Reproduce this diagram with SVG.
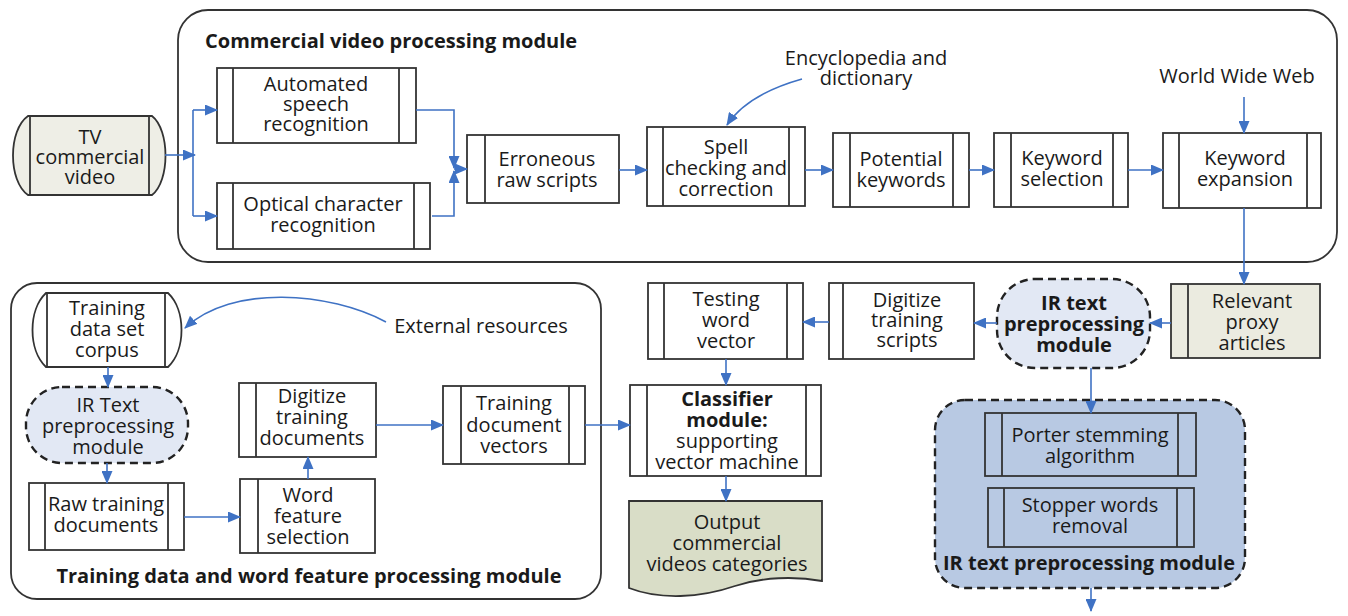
<svg xmlns="http://www.w3.org/2000/svg" width="1348" height="616" viewBox="0 0 1348 616">
<defs>
<style>
.box{fill:#fff;stroke:#333;stroke-width:1.8}
.ln{stroke:#333;stroke-width:1.8;fill:none}
.mod{fill:#fff;stroke:#333;stroke-width:1.8}
.dash{stroke:#222;stroke-width:2.4;stroke-dasharray:8 5}
.t{font-family:"Open Sans","Noto Sans",sans-serif;font-size:20px;fill:#1a1a1a;text-anchor:middle}
.b{font-weight:bold}
.c{fill:none;stroke:#3f72c4;stroke-width:1.6;marker-end:url(#ah)}
.p{fill:none;stroke:#3f72c4;stroke-width:1.6}
</style>
<marker id="ah" markerWidth="13" markerHeight="11" refX="12" refY="5.5" orient="auto" markerUnits="userSpaceOnUse">
<path d="M0,0 L13,5.5 L0,11 Z" fill="#3f72c4"/>
</marker>
</defs>
<rect width="1348" height="616" fill="#fff"/>

<g id="module-commercial">
<rect class="mod" x="178" y="10" width="1159" height="252" rx="30"/>
<text class="t b" x="205" y="48" style="text-anchor:start">Commercial video processing module</text>
</g>

<g id="module-training">
<rect class="mod" x="11" y="283" width="590" height="316" rx="26"/>
<text class="t b" x="309" y="583">Training data and word feature processing module</text>
</g>

<g id="module-ir-big">
<rect x="935" y="400" width="310" height="188" rx="30" fill="#b8c9e3" class="dash"/>
<text class="t b" x="1089" y="570">IR text preprocessing module</text>
</g>

<g id="tv">
<path d="M28,116 L152,116 C170,130 170,181 152,195 L28,195 C8,181 8,130 28,116 Z" fill="#eeeee6" stroke="#333" stroke-width="1.8"/>
<line class="ln" x1="30" y1="116" x2="30" y2="195"/>
<line class="ln" x1="149" y1="116" x2="149" y2="195"/>
<text class="t" x="90" y="144">TV</text>
<text class="t" x="90" y="164">commercial</text>
<text class="t" x="90" y="184">video</text>
</g>

<g id="asr">
<rect class="box" x="217" y="68" width="199" height="75"/>
<line class="ln" x1="233" y1="68" x2="233" y2="143"/>
<line class="ln" x1="399" y1="68" x2="399" y2="143"/>
<text class="t" x="316" y="91">Automated</text>
<text class="t" x="316" y="111">speech</text>
<text class="t" x="316" y="131">recognition</text>
</g>

<g id="ocr">
<rect class="box" x="217" y="183" width="213" height="66"/>
<line class="ln" x1="233" y1="183" x2="233" y2="249"/>
<line class="ln" x1="414" y1="183" x2="414" y2="249"/>
<text class="t" x="323" y="211">Optical character</text>
<text class="t" x="323" y="232">recognition</text>
</g>

<g id="erroneous">
<rect class="box" x="467" y="135" width="152" height="68"/>
<line class="ln" x1="485" y1="135" x2="485" y2="203"/>
<text class="t" x="547" y="166">Erroneous</text>
<text class="t" x="547" y="187">raw scripts</text>
</g>

<g id="spell">
<rect class="box" x="647" y="127" width="158" height="79"/>
<line class="ln" x1="663" y1="127" x2="663" y2="206"/>
<line class="ln" x1="789" y1="127" x2="789" y2="206"/>
<text class="t" x="726" y="154">Spell</text>
<text class="t" x="726" y="175">checking and</text>
<text class="t" x="726" y="196">correction</text>
</g>

<g id="encyclopedia">
<text class="t" x="866" y="65">Encyclopedia and</text>
<text class="t" x="866" y="85">dictionary</text>
</g>

<g id="potential">
<rect class="box" x="833" y="133" width="136" height="74"/>
<line class="ln" x1="850" y1="133" x2="850" y2="207"/>
<line class="ln" x1="953" y1="133" x2="953" y2="207"/>
<text class="t" x="901" y="166">Potential</text>
<text class="t" x="901" y="187">keywords</text>
</g>

<g id="selection">
<rect class="box" x="994" y="133" width="134" height="74"/>
<line class="ln" x1="1011" y1="133" x2="1011" y2="207"/>
<line class="ln" x1="1113" y1="133" x2="1113" y2="207"/>
<text class="t" x="1062" y="165">Keyword</text>
<text class="t" x="1062" y="186">selection</text>
</g>

<g id="www">
<text class="t" x="1237" y="83">World Wide Web</text>
</g>

<g id="expansion">
<rect class="box" x="1163" y="133" width="158" height="75"/>
<line class="ln" x1="1179" y1="133" x2="1179" y2="208"/>
<line class="ln" x1="1307" y1="133" x2="1307" y2="208"/>
<text class="t" x="1245" y="165">Keyword</text>
<text class="t" x="1245" y="186">expansion</text>
</g>

<g id="relevant">
<rect x="1171" y="284" width="149" height="74" fill="#ebebe0" stroke="#333" stroke-width="1.8"/>
<line class="ln" x1="1188" y1="284" x2="1188" y2="358"/>
<text class="t" x="1252" y="308">Relevant</text>
<text class="t" x="1252" y="329">proxy</text>
<text class="t" x="1252" y="350">articles</text>
</g>

<g id="ir-top">
<rect x="997" y="279" width="153" height="89" rx="38" fill="#e2e8f4" class="dash"/>
<text class="t b" x="1074" y="310">IR text</text>
<text class="t b" x="1074" y="331">preprocessing</text>
<text class="t b" x="1074" y="352">module</text>
</g>

<g id="digitize-scripts">
<rect class="box" x="829" y="283" width="145" height="76"/>
<line class="ln" x1="843" y1="283" x2="843" y2="359"/>
<text class="t" x="907" y="307">Digitize</text>
<text class="t" x="907" y="327">training</text>
<text class="t" x="907" y="347">scripts</text>
</g>

<g id="testing">
<rect class="box" x="648" y="283" width="155" height="76"/>
<line class="ln" x1="664" y1="283" x2="664" y2="359"/>
<line class="ln" x1="787" y1="283" x2="787" y2="359"/>
<text class="t" x="726" y="306">Testing</text>
<text class="t" x="726" y="327">word</text>
<text class="t" x="726" y="348">vector</text>
</g>

<g id="classifier">
<rect class="box" x="630" y="385" width="191" height="91"/>
<line class="ln" x1="647" y1="385" x2="647" y2="476"/>
<line class="ln" x1="806" y1="385" x2="806" y2="476"/>
<text class="t b" x="727" y="406">Classifier</text>
<text class="t b" x="727" y="427">module:</text>
<text class="t" x="727" y="448">supporting</text>
<text class="t" x="727" y="469">vector machine</text>
</g>

<g id="output">
<path d="M629,501 L822,501 L822,581 C795,576 762,577 735,586 C700,598 660,600 629,588 Z" fill="#d9ddc7" stroke="#333" stroke-width="1.8"/>
<text class="t" x="727" y="529">Output</text>
<text class="t" x="727" y="550">commercial</text>
<text class="t" x="727" y="571">videos categories</text>
</g>

<g id="porter">
<rect class="box" x="985" y="413" width="211" height="63" fill="#b8c9e3" style="fill:#b8c9e3"/>
<line class="ln" x1="1002" y1="413" x2="1002" y2="476"/>
<line class="ln" x1="1178" y1="413" x2="1178" y2="476"/>
<text class="t" x="1090" y="442">Porter stemming</text>
<text class="t" x="1090" y="463">algorithm</text>
</g>

<g id="stopper">
<rect class="box" x="988" y="488" width="206" height="59" style="fill:#b8c9e3"/>
<line class="ln" x1="1004" y1="488" x2="1004" y2="547"/>
<line class="ln" x1="1177" y1="488" x2="1177" y2="547"/>
<text class="t" x="1090" y="512">Stopper words</text>
<text class="t" x="1090" y="533">removal</text>
</g>

<g id="corpus">
<path d="M46,293 L168,293 C186,310 186,350 168,367 L46,367 C28,350 28,310 46,293 Z" fill="#fff" stroke="#333" stroke-width="1.8"/>
<line class="ln" x1="47" y1="293" x2="47" y2="367"/>
<line class="ln" x1="165" y1="293" x2="165" y2="367"/>
<text class="t" x="107" y="315">Training</text>
<text class="t" x="107" y="336">data set</text>
<text class="t" x="107" y="357">corpus</text>
</g>

<g id="external">
<text class="t" x="481" y="333">External resources</text>
</g>

<g id="ir-small">
<rect x="26" y="387" width="162" height="76" rx="36" fill="#e2e8f4" class="dash"/>
<text class="t" x="108" y="412">IR Text</text>
<text class="t" x="108" y="433">preprocessing</text>
<text class="t" x="108" y="454">module</text>
</g>

<g id="raw">
<rect class="box" x="29" y="483" width="155" height="67"/>
<line class="ln" x1="45" y1="483" x2="45" y2="550"/>
<line class="ln" x1="168" y1="483" x2="168" y2="550"/>
<text class="t" x="106" y="511">Raw training</text>
<text class="t" x="106" y="532">documents</text>
</g>

<g id="word">
<rect class="box" x="240" y="479" width="135" height="74"/>
<line class="ln" x1="258" y1="479" x2="258" y2="553"/>
<text class="t" x="308" y="502">Word</text>
<text class="t" x="308" y="523">feature</text>
<text class="t" x="308" y="544">selection</text>
</g>

<g id="digitize-docs">
<rect class="box" x="239" y="383" width="137" height="74"/>
<line class="ln" x1="256" y1="383" x2="256" y2="457"/>
<text class="t" x="312" y="403">Digitize</text>
<text class="t" x="312" y="424">training</text>
<text class="t" x="312" y="445">documents</text>
</g>

<g id="vectors">
<rect class="box" x="443" y="386" width="142" height="78"/>
<line class="ln" x1="461" y1="386" x2="461" y2="464"/>
<line class="ln" x1="569" y1="386" x2="569" y2="464"/>
<text class="t" x="514" y="410">Training</text>
<text class="t" x="514" y="432">document</text>
<text class="t" x="514" y="453">vectors</text>
</g>

<g id="connectors">
<path class="c" d="M165,155 H195"/>
<path class="p" d="M193,110 V216"/>
<path class="c" d="M193,110 H217"/>
<path class="c" d="M193,216 H217"/>
<path class="c" d="M416,110 H454 V168"/>
<path class="c" d="M432,216 H454 V171"/>
<path class="c" d="M454,169 H467"/>
<path class="c" d="M619,170 H647"/>
<path class="c" d="M805,170 H833"/>
<path class="c" d="M969,170 H994"/>
<path class="c" d="M1128,170 H1163"/>
<path class="c" d="M1244,97 V133"/>
<path class="c" d="M802,79 C770,88 742,102 727,125"/>
<path class="c" d="M1244,208 V284"/>
<path class="c" d="M1171,323 H1150"/>
<path class="c" d="M997,323 H974"/>
<path class="c" d="M829,322 H803"/>
<path class="c" d="M726,359 V385"/>
<path class="c" d="M726,476 V501"/>
<path class="c" d="M1091,368 V413"/>
<path class="c" d="M1091,588 V611"/>
<path class="c" d="M386,322 C330,292 232,284 185,328"/>
<path class="c" d="M108,367 V387"/>
<path class="c" d="M107,463 V483"/>
<path class="c" d="M184,517 H240"/>
<path class="c" d="M308,479 V457"/>
<path class="c" d="M376,425 H443"/>
<path class="c" d="M585,425 H630"/>
</g>
</svg>
